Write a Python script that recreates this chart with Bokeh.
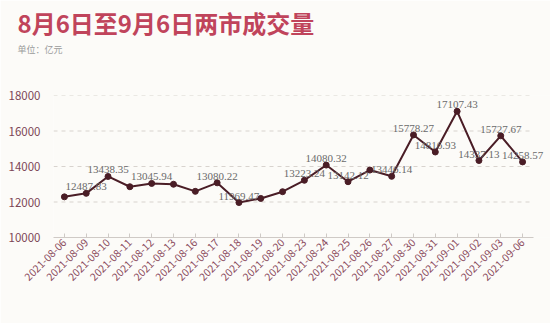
from bokeh.plotting import figure
from bokeh.models import ColumnDataSource, Range1d, FixedTicker, Title, Legend, LegendItem, LabelSet
from bokeh.embed import file_html
from bokeh.resources import INLINE
import math

dates = ["2021-08-06", "2021-08-09", "2021-08-10", "2021-08-11", "2021-08-12", "2021-08-13",
         "2021-08-16", "2021-08-17", "2021-08-18", "2021-08-19", "2021-08-20", "2021-08-23",
         "2021-08-24", "2021-08-25", "2021-08-26", "2021-08-27", "2021-08-30", "2021-08-31",
         "2021-09-01", "2021-09-02", "2021-09-03", "2021-09-06"]
amounts = [12290.0, 12487.83, 13438.35, 12860.0, 13045.94, 13000.0,
           12600.0, 13080.22, 11969.47, 12200.0, 12580.0, 13223.24,
           14080.32, 13142.12, 13800.0, 13446.14, 15778.27, 14816.93,
           17107.43, 14337.13, 15727.67, 14258.57]
shown = [False, True, True, False, True, False,
         False, True, True, False, False, True,
         True, True, False, True, True, True,
         True, True, True, True]
y_ticks = [10000, 12000, 14000, 16000, 18000]

FONT = "Noto Sans CJK SC"
BG = "#fcfbf8"
LINE = "#4a1d26"

n = len(dates)
idx = list(range(n))
labels = [f"{v:.2f}" if s else "" for v, s in zip(amounts, shown)]
src = ColumnDataSource(dict(x=idx, y=amounts, lab=labels))

p = figure(frame_width=497, frame_height=142, output_backend="svg", toolbar_location=None,
           x_range=Range1d(-0.5, n - 0.5 + 0.78), y_range=Range1d(y_ticks[0], y_ticks[-1]),
           min_border_left=53, min_border_right=0, min_border_top=95, min_border_bottom=0)
p.background_fill_color = BG
p.border_fill_color = BG
p.outline_line_color = None

# dashed horizontal grid across the category span
gy = y_ticks[1:]
p.segment(x0=[-0.5] * len(gy), x1=[n - 0.5] * len(gy), y0=gy, y1=gy,
          line_color="#d8d3ce", line_dash="4 4", line_width=1)

line_r = p.line("x", "y", source=src, line_color=LINE, line_width=2)
dots = p.scatter("x", "y", source=src, size=6, fill_color=LINE, line_color=LINE)

ls = LabelSet(x="x", y="y", text="lab", source=src, text_align="center", text_baseline="bottom",
              y_offset=3, text_font=FONT, text_font_size="11px", text_color="#6a6a6a")
p.add_layout(ls)

# axes
p.yaxis.ticker = FixedTicker(ticks=y_ticks)
p.yaxis.axis_line_color = None
p.yaxis.major_tick_line_color = None
p.yaxis.minor_tick_line_color = None
p.yaxis.major_label_standoff = 7
p.yaxis.major_label_text_font = FONT
p.yaxis.major_label_text_font_size = "11.5px"
p.yaxis.major_label_text_color = "#7d4656"

p.xaxis.ticker = FixedTicker(ticks=idx)
p.xaxis.major_label_overrides = {i: d for i, d in zip(idx, dates)}
p.xaxis.bounds = (-0.5, n - 0.5)
p.xaxis.axis_line_color = "#cfcac6"
p.xaxis.major_tick_line_color = "#cfcac6"
p.xaxis.minor_tick_line_color = None
p.xaxis.major_tick_out = 0
p.xaxis.major_tick_in = 4
p.xaxis.major_label_orientation = math.pi / 4
p.xaxis.major_label_standoff = 3
p.xaxis.major_label_text_font = FONT
p.xaxis.major_label_text_font_size = "10.5px"
p.xaxis.major_label_text_line_height = 0.6
p.xaxis.major_label_text_color = "#8a4a5c"

p.xgrid.grid_line_color = None
p.ygrid.grid_line_color = None

# titles (a thin spacer keeps the subtitle clear of the plot area)
p.add_layout(Title(text=" ", standoff=36, text_font_size="1px"), "above")
p.add_layout(Title(text="单位：亿元", align="left", offset=-36, standoff=2,
                   text_font=FONT, text_font_size="9px", text_font_style="normal",
                   text_color="#9a9a9a"), "above")
p.add_layout(Title(text="8月6日至9月6日两市成交量", align="left", offset=-36, standoff=0,
                   text_font=FONT, text_font_size="24px", text_font_style="bold",
                   text_color="#c0445b"), "above")

legend = Legend(items=[LegendItem(label="金额(亿元)", renderers=[dots])],
                location="center", orientation="horizontal",
                background_fill_alpha=0, border_line_color=None,
                label_text_font=FONT, label_text_font_size="11px", label_text_color="#7d3b4c",
                glyph_width=10, glyph_height=10, label_standoff=4, padding=0, margin=0,
                label_height=12)
p.add_layout(legend, "below")
p.add_layout(Title(text=" ", standoff=40, text_font_size="1px"), "below")

open("out.html", "w").write(file_html(p, INLINE))
